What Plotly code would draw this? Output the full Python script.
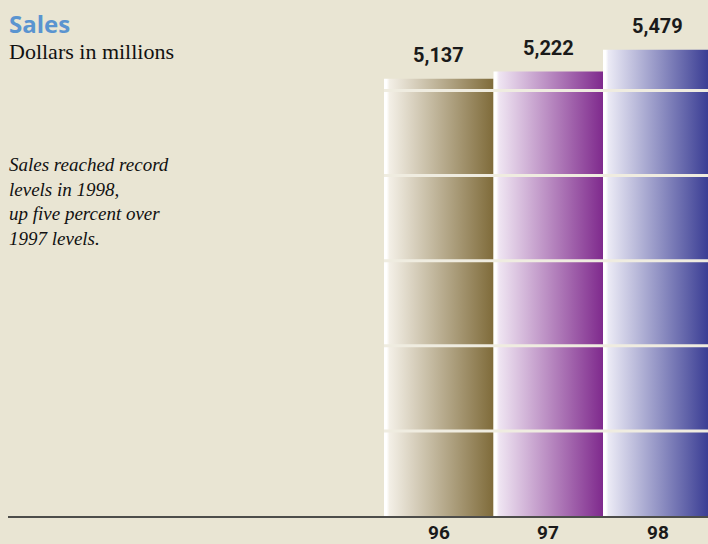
import plotly.graph_objects as go

# ---- data ----
years = ["96", "97", "98"]
sales = [5137, 5222, 5479]
bar_dark = ["#7f6b3a", "#7f2a8d", "#333690"]
bar_light = ["#f3efe6", "#efe5f2", "#ebeaf5"]
grid_values = [1000, 2000, 3000, 4000, 5000]
title_text = "Sales"
subtitle_text = "Dollars in millions"
note_lines = ["Sales reached record", "levels in 1998,", "up five percent over", "1997 levels."]

BG = "#e9e5d3"
W, H = 708, 544
ML, MR, MT, MB = 8, 0, 0, 28
PLOT_W = W - ML - MR
PLOT_H = H - MT - MB
PX_PER_CAT = 109.5
PX_PER_UNIT = 0.0851
x_min = -0.5 - (384 - ML) / PX_PER_CAT
x_max = x_min + PLOT_W / PX_PER_CAT
y_max = PLOT_H / PX_PER_UNIT


def py(px):
    return 1 - (px - MT) / PLOT_H


def px_x(px):
    return (px - ML) / PLOT_W


fig = go.Figure()
for i, (yr, v) in enumerate(zip(years, sales)):
    fig.add_trace(go.Scatter(
        x=[i - 0.5, i - 0.5, i + 0.5, i + 0.5, i - 0.5],
        y=[0, v, v, 0, 0],
        mode="lines",
        line=dict(width=0, color=bar_dark[i]),
        fill="toself",
        fillgradient=dict(
            type="horizontal",
            colorscale=[[0, "#ffffff"], [0.025, "#ffffff"], [0.05, bar_light[i]], [1, bar_dark[i]]],
        ),
        hoverinfo="skip",
        showlegend=False,
    ))
    fig.add_annotation(
        x=i, y=v, xref="x", yref="y", text=f"{v:,}", showarrow=False,
        yanchor="bottom", yshift=10,
        font=dict(family="Roboto", size=20, color="#1a1a1a", weight="bold"),
    )
    # category label under the axis
    fig.add_annotation(
        x=i, y=py(H), xref="x", yref="paper", text=yr, showarrow=False,
        yanchor="bottom", borderpad=0, yshift=-1,
        font=dict(family="Roboto", size=19, color="#1a1a1a", weight="bold"),
    )

shapes = []
for g in grid_values:
    shapes.append(dict(type="line", xref="x", yref="y", x0=-0.5, x1=x_max, y0=g, y1=g,
                       line=dict(color="#efece0", width=3), layer="above"))

fig.add_annotation(x=px_x(8), y=py(6), xref="paper", yref="paper", xanchor="left", yanchor="top",
                   text="<b>" + title_text + "</b>", showarrow=False, borderpad=0,
                   font=dict(family="Open Sans", size=24, color="#5a94d0"))
fig.add_annotation(x=px_x(8), y=py(38), xref="paper", yref="paper", xanchor="left", yanchor="top",
                   text=subtitle_text, showarrow=False, borderpad=0,
                   font=dict(family="Liberation Serif", size=22, color="#111111"))
fig.add_annotation(x=px_x(8), y=py(153), xref="paper", yref="paper", xanchor="left", yanchor="top",
                   text="<i>" + "<br>".join(note_lines) + "</i>", showarrow=False, align="left",
                   borderpad=0,
                   font=dict(family="Liberation Serif", size=19, color="#111111"))

fig.update_layout(
    width=W, height=H,
    margin=dict(l=ML, r=MR, t=MT, b=MB, pad=0, autoexpand=False),
    paper_bgcolor=BG, plot_bgcolor=BG,
    shapes=shapes,
    xaxis=dict(range=[x_min, x_max], tickvals=list(range(len(years))),
               showticklabels=False,
               showgrid=False, zeroline=False, showline=True, linecolor="#4d4d4a", linewidth=2,
               ticks="", automargin=False, fixedrange=True),
    yaxis=dict(range=[0, y_max], showgrid=False, zeroline=False, showticklabels=False,
               showline=False, fixedrange=True, automargin=False),
)

fig.write_html("out.html")
